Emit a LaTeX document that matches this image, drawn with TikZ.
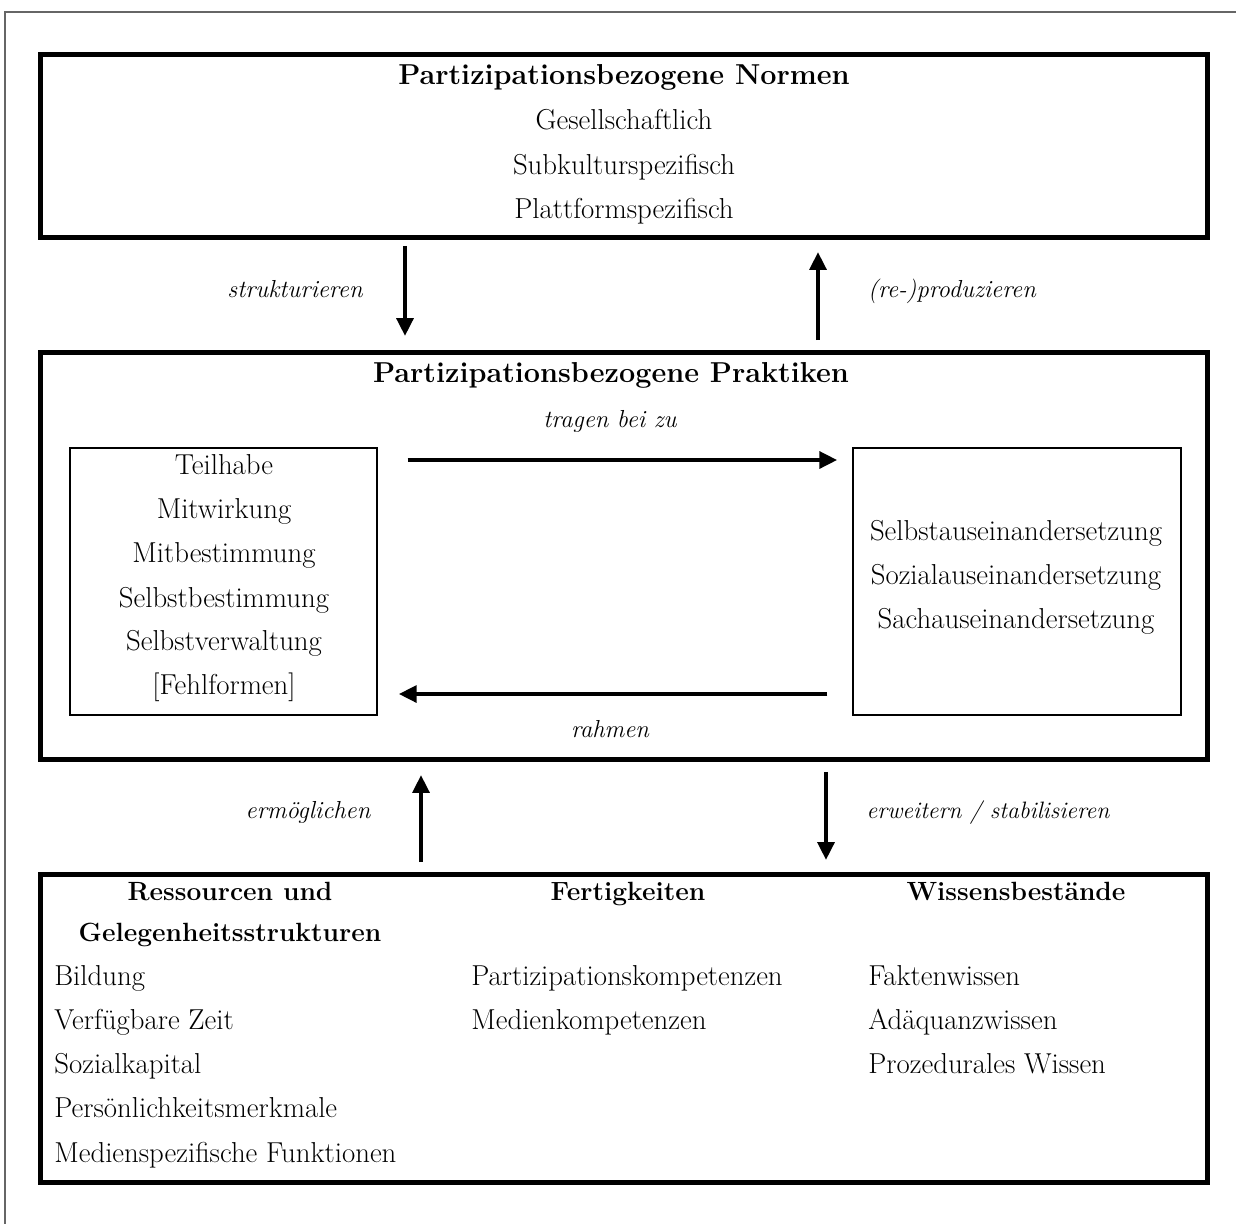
\documentclass[tikz,border=0pt]{standalone}
\usepackage{fontspec}
\usetikzlibrary{arrows.meta}

\begin{document}
\begin{tikzpicture}[x=0.02cm, y=0.02cm,
	every node/.style={inner sep=0pt, font=\fontsize{16.4}{19}\selectfont},
	>={Triangle[length=3.6mm, width=3.3mm]},
	rahmenbox/.style={draw, line width=2.8pt, minimum width=23.34cm},
	innenbox/.style={draw, line width=0.8pt, minimum height=5.34cm},
	titel/.style={font=\fontsize{16.4}{19}\selectfont\bfseries, anchor=base},
	kopf/.style={font=\fontsize{15}{18}\selectfont\bfseries, anchor=base},
	eintrag/.style={anchor=base},
	liste/.style={anchor=base west},
	verb/.style={font=\fontsize{14}{17}\selectfont\itshape, anchor=base},
	pfeil/.style={->, line width=2.6pt}]
	\useasboundingbox (0,0) rectangle (1236,-1224);
	\draw[black!60, line width=0.6pt] (1236,-12) -- (5,-12) -- (5,-1224);
	% Normen
	\node[rahmenbox, minimum height=3.66cm] (normen) at (624,-146) {};
	\node[titel] (normenkopf) at (624,-84) {Partizipationsbezogene Normen};
	\node[eintrag] (gesell) at (624,-129) {Gesellschaftlich};
	\node[eintrag] (subkultur) at (624,-174) {Subkulturspezifisch};
	\node[eintrag] (plattform) at (624,-218) {Plattformspezifisch};
	% Praktiken
	\node[rahmenbox, minimum height=8.14cm] (praxis) at (624,-556) {};
	\node[titel] (praxiskopf) at (611,-382) {Partizipationsbezogene Praktiken};
	\node[innenbox, minimum width=6.14cm] (formen) at (223.5,-581.5) {};
	\node[innenbox, minimum width=6.56cm] (ausein) at (1017,-581.5) {};
	\node[eintrag] (teilhabe) at (224,-474) {Teilhabe};
	\node[eintrag] (mitwirk) at (224,-518) {Mitwirkung};
	\node[eintrag] (mitbest) at (224,-562) {Mitbestimmung};
	\node[eintrag] (selbstbest) at (224,-607) {Selbstbestimmung};
	\node[eintrag] (selbstverw) at (224,-650) {Selbstverwaltung};
	\node[eintrag] (fehl) at (224,-694) {[Fehlformen]};
	\node[eintrag] (selbstaus) at (1016,-540) {Selbstauseinandersetzung};
	\node[eintrag] (sozialaus) at (1016,-584) {Sozialauseinandersetzung};
	\node[eintrag] (sachaus) at (1016,-628) {Sachauseinandersetzung};
	% Ressourcen, Fertigkeiten, Wissen
	\node[rahmenbox, minimum height=6.16cm] (basis) at (624,-1028.5) {};
	\node[kopf] (res1) at (230,-900) {Ressourcen und};
	\node[kopf] (res2) at (230,-941) {Gelegenheitsstrukturen};
	\node[kopf] (fert) at (628,-900) {Fertigkeiten};
	\node[kopf] (wiss) at (1016,-900) {Wissensbestände};
	\node[liste] (bildung) at (54,-985) {Bildung};
	\node[liste] (zeit) at (54,-1029) {Verfügbare Zeit};
	\node[liste] (sozkap) at (54,-1073) {Sozialkapital};
	\node[liste] (persmerk) at (54,-1117) {Persönlichkeitsmerkmale};
	\node[liste] (medfunk) at (54,-1162) {Medienspezifische Funktionen};
	\node[liste] (partkomp) at (471,-985) {Partizipationskompetenzen};
	\node[liste] (medkomp) at (471,-1029) {Medienkompetenzen};
	\node[liste] (fakten) at (868,-985) {Faktenwissen};
	\node[liste] (adaequanz) at (868,-1029) {Adäquanzwissen};
	\node[liste] (prozedur) at (868,-1073) {Prozedurales Wissen};
	% Pfeile
	\coordinate (xa) at (405,0);
	\coordinate (xb) at (818,0);
	\coordinate (xc) at (421,0);
	\coordinate (xd) at (826,0);
	\coordinate (hoch) at (0,-460);
	\coordinate (tief) at (0,-694);
	\draw[pfeil, shorten <=1.2mm, shorten >=2.8mm] (normen.south -| xa) -- (praxis.north -| xa);
	\draw[pfeil, shorten <=2mm, shorten >=2.4mm] (praxis.north -| xb) -- (normen.south -| xb);
	\draw[pfeil, shorten <=2mm, shorten >=2.6mm] (basis.north -| xc) -- (praxis.south -| xc);
	\draw[pfeil, shorten <=2mm, shorten >=2.4mm] (praxis.south -| xd) -- (basis.north -| xd);
	\draw[pfeil, shorten <=6mm, shorten >=3mm] (formen.east |- hoch) -- (ausein.west |- hoch);
	\draw[pfeil, shorten <=5mm, shorten >=4.2mm] (ausein.west |- tief) -- (formen.east |- tief);
	\node[verb] (strukt) at (295,-297) {strukturieren};
	\node[verb] (reprod) at (952,-297) {(re-)produzieren};
	\node[verb] (tragen) at (610,-427) {tragen bei zu};
	\node[verb] (rahmen) at (610,-737) {rahmen};
	\node[verb] (ermoegl) at (308,-818) {ermöglichen};
	\node[verb, font=\fontsize{13.5}{16}\selectfont\itshape] (erweit) at (988,-818) {erweitern / stabilisieren};
\end{tikzpicture}
\end{document}
